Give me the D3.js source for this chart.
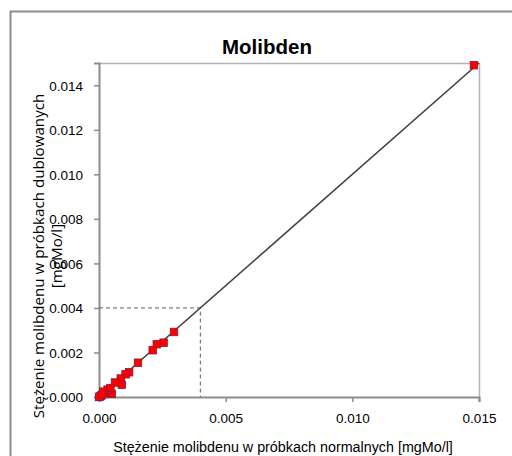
<!DOCTYPE html>
<html><head><meta charset="utf-8">
<script src="https://cdn.jsdelivr.net/npm/d3@7"></script>
<style>body{margin:0;background:#fff;} svg{display:block;}</style>
</head><body>
<svg id="c" width="512" height="456"></svg>
<script>
const title = "Molibden";
const xTitle = "Stężenie molibdenu w próbkach normalnych [mgMo/l]";
const yTitle1 = "Stężenie molibdenu w próbkach dublowanych";
const yTitle2 = "[mgMo/l]";
const xTicks = [0, 0.005, 0.010, 0.015];
const yTicks = [0, 0.002, 0.004, 0.006, 0.008, 0.010, 0.012, 0.014];
const xNormal = [0.0148, 0.00296, 0.00255, 0.00228, 0.00212, 0.00154, 0.00119, 0.00105, 0.00086, 0.00090, 0.00063, 0.00050, 0.00034, 0.00024, 0.00017, 0.00008, 0.00003, 0.00000, 0.00045, 0.00012];
const yDup    = [0.0149, 0.00292, 0.00244, 0.00237, 0.00210, 0.00154, 0.00111, 0.00102, 0.00083, 0.00055, 0.00065, 0.00014, 0.00033, 0.00017, 0.00024, 0.00006, 0.00002, 0.00000, 0.00040, 0.00010];
const lineEnds = [0, 0.015];
const boxLimit = 0.004;

const svg = d3.select("#c");
const x = d3.scaleLinear().domain([0, 0.015]).range([99, 479]);
const y = d3.scaleLinear().domain([0, 0.015]).range([397, 63]);
const ARIAL = "Liberation Sans, Arial, sans-serif";

function fitText(sel, base, target){
  sel.attr("font-size", base);
  const w = sel.node().getComputedTextLength();
  if (w > 0) sel.attr("font-size", base * target / w);
}

// outer frame
svg.append("path").attr("d","M10.5,460 V11.5 H520").attr("fill","none").attr("stroke","#8c8c8c").attr("stroke-width",2);

// plot frame top/right
svg.append("path").attr("d",`M${x(0)},${y(0.015)+0.5} H${x(0.015)+0.5} V${y(0)}`).attr("fill","none").attr("stroke","#b4b4b4").attr("stroke-width",1.5);

// axes
const fmt = d3.format(".3f");
const gx = svg.append("g").attr("transform",`translate(0,${y(0)})`)
  .call(d3.axisBottom(x).tickValues(xTicks).tickFormat(fmt).tickSize(5).tickPadding(9));
const gy = svg.append("g").attr("transform",`translate(${x(0)},0)`)
  .call(d3.axisLeft(y).tickValues(yTicks).tickFormat(fmt).tickSize(5).tickPadding(11));
[gx,gy].forEach(g=>{
  g.select(".domain").attr("stroke","#8c8c8c").attr("stroke-width",2);
  g.selectAll(".tick line").attr("stroke","#8c8c8c").attr("stroke-width",1.5);
  g.selectAll(".tick text").attr("font-family",ARIAL).attr("font-size",13.5).attr("fill","#000");
});
gx.selectAll(".tick text").attr("dy","0.9em");
gy.selectAll(".tick text").attr("dy","0.35em");

// dashed box
svg.append("path")
  .attr("d",`M${x(0)},${y(boxLimit)} H${x(boxLimit)} V${y(0)}`)
  .attr("fill","none").attr("stroke","#606060").attr("stroke-width",1).attr("stroke-dasharray","4,3");

// diagonal line
svg.append("line")
  .attr("x1",x(lineEnds[0])).attr("y1",y(lineEnds[0]))
  .attr("x2",x(lineEnds[1])).attr("y2",y(lineEnds[1]))
  .attr("stroke","#404040").attr("stroke-width",1.6);

// points
const pts = xNormal.map((v,i)=>({x:v,y:yDup[i]}));
const s = 7.5;
svg.append("g").selectAll("rect").data(pts).join("rect")
  .attr("x",d=>x(d.x)-s/2).attr("y",d=>y(d.y)-s/2)
  .attr("width",s).attr("height",s)
  .attr("fill","#ff0000").attr("stroke","#8b1a3c").attr("stroke-width",0.8);

// title
const tt = svg.append("text").attr("x",267).attr("y",54).attr("text-anchor","middle")
  .attr("font-family",ARIAL).attr("font-weight","bold").text(title);
fitText(tt, 19, 90);

// x title
const xt = svg.append("text").attr("x",283).attr("y",452).attr("text-anchor","middle")
  .attr("font-family",ARIAL).text(xTitle);
fitText(xt, 13.5, 340);

// y title
const yt = svg.append("text").attr("transform","translate(44,256) rotate(-90)").attr("text-anchor","middle")
  .attr("font-family","Open Sans, Noto Sans, sans-serif");
const t1 = yt.append("tspan").attr("x",0).attr("y",0).text(yTitle1);
yt.append("tspan").attr("x",0).attr("y",18).text(yTitle2);
yt.attr("font-size",14);
const w1 = t1.node().getComputedTextLength();
if (w1 > 0) yt.attr("font-size", 14 * 325 / w1);
</script>
</body></html>
